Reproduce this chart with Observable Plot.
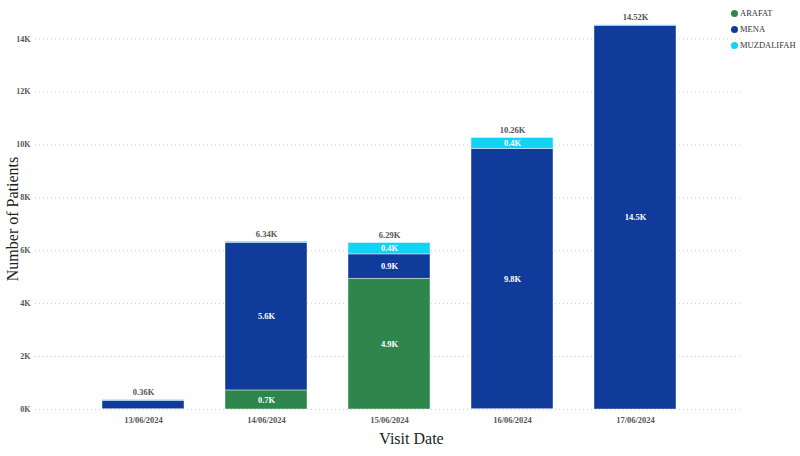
<!DOCTYPE html>
<html>
<head>
<meta charset="utf-8">
<script src="https://cdn.jsdelivr.net/npm/d3@7"></script>
<script src="https://cdn.jsdelivr.net/npm/@observablehq/plot@0.6"></script>
<style>
  html, body { margin: 0; padding: 0; background: #fff; }
  #wrap { position: relative; width: 800px; height: 456px; }
  #chart svg text { font-family: "Liberation Serif", "Times New Roman", serif; }
  #legend { position: absolute; left: 731px; top: 5px; font: 8.5px "Liberation Serif", "Times New Roman", serif; color: #333; }
  #legend div { display: flex; align-items: center; height: 16px; }
  #legend span.dot { width: 7px; height: 7px; border-radius: 50%; margin-right: 2px; display: inline-block; }
</style>
</head>
<body>
<div id="wrap">
  <div id="chart"></div>
  <div id="legend"></div>
</div>
<script>
// Patients per visit date, split by site (counts)
const dates = ["13/06/2024", "14/06/2024", "15/06/2024", "16/06/2024", "17/06/2024"];
const series = ["ARAFAT", "MENA", "MUZDALIFAH"];
const colors = ["#2E864C", "#113B9B", "#12D2F5"];
const arafat = [10, 720, 4940, 10, 0];
const mena = [320, 5580, 920, 9830, 14500];
const muzdalifah = [30, 40, 430, 420, 20];
const yTicks = [0, 2000, 4000, 6000, 8000, 10000, 12000, 14000];

const values = [arafat, mena, muzdalifah];
const rows = [];
series.forEach((s, i) => dates.forEach((d, j) => rows.push({date: d, site: s, value: values[i][j]})));
const totals = dates.map((d, j) => ({date: d, total: arafat[j] + mena[j] + muzdalifah[j]}));

const fmtK = (v, n) => (v / 1000).toFixed(n) + "K";
const serif = "Liberation Serif, Times New Roman, serif";

const chart = Plot.plot({
  width: 800,
  height: 456,
  marginLeft: 35,
  marginRight: 57,
  marginTop: 12,
  marginBottom: 47,
  style: {fontFamily: serif, background: "#fff"},
  x: {domain: dates, paddingInner: 0.33, paddingOuter: 0.53, label: null},
  y: {domain: [0, 15000], label: null},
  color: {domain: series, range: colors},
  marks: [
    Plot.gridY(yTicks, {stroke: "#cfcfcf", strokeOpacity: 1, strokeDasharray: "1,3"}),
    Plot.barY(rows, Plot.stackY({
      x: "date", y: "value", fill: "site", order: series,
      stroke: "#fff", strokeWidth: 0.6, strokeOpacity: 0.7
    })),
    Plot.text(rows, Plot.stackY({
      x: "date", y: "value", z: "site", order: series,
      text: d => d.value >= 400 ? fmtK(d.value, 1) : "",
      fill: "#fff", fontWeight: "bold", fontSize: 8.5, fontFamily: serif
    })),
    Plot.text(totals, {
      x: "date", y: "total", text: d => fmtK(d.total, 2),
      lineAnchor: "bottom", dy: -5, fill: "#555", fontWeight: "bold", fontSize: 8.5, fontFamily: serif
    }),
    Plot.axisY(yTicks, {
      tickSize: 0, tickPadding: 5, tickFormat: d => fmtK(d, 0), label: null,
      fill: "#555", fontWeight: "bold", fontSize: 8, fontFamily: serif
    }),
    Plot.axisX({
      tickSize: 0, tickPadding: 7, label: null,
      fill: "#555", fontWeight: "bold", fontSize: 8.5, fontFamily: serif
    }),
    Plot.text(["Number of Patients"], {
      frameAnchor: "left", textAnchor: "middle", dx: -23, dy: 8, rotate: -90,
      fontSize: 16, fill: "#222", fontFamily: serif
    }),
    Plot.text(["Visit Date"], {
      frameAnchor: "bottom", lineAnchor: "middle", dx: 22, dy: 29,
      fontSize: 16, fill: "#222", fontFamily: serif
    })
  ]
});
document.getElementById("chart").appendChild(chart);

// Site legend in the top-right corner
const legend = document.getElementById("legend");
series.forEach((s, i) => {
  const row = document.createElement("div");
  const dot = document.createElement("span");
  dot.className = "dot";
  dot.style.background = colors[i];
  row.appendChild(dot);
  row.appendChild(document.createTextNode(s));
  legend.appendChild(row);
});
</script>
</body>
</html>
